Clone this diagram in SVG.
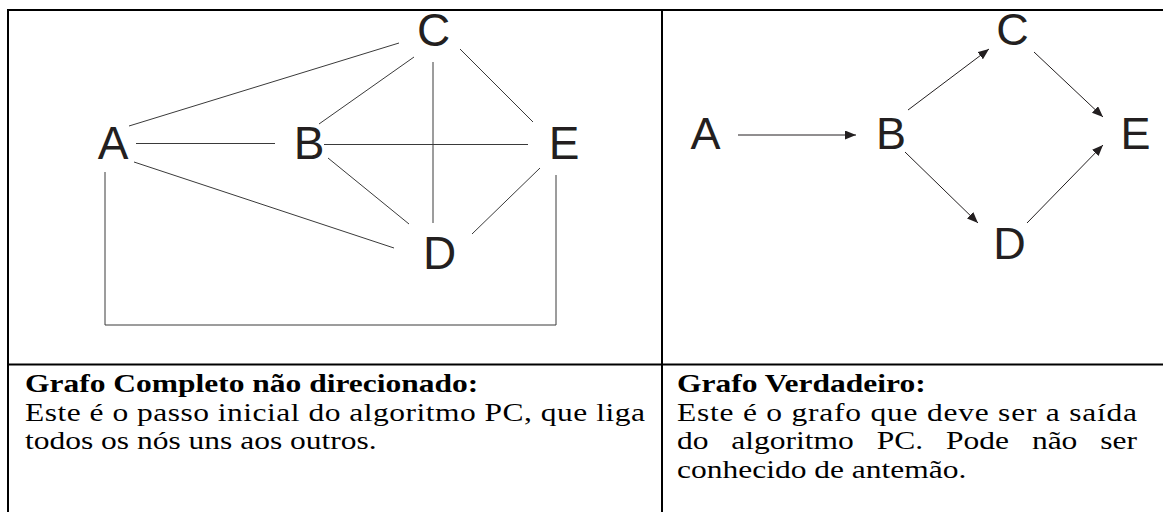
<svg xmlns="http://www.w3.org/2000/svg" width="1163" height="512" viewBox="0 0 1163 512">
<style>
.border{stroke:#000;stroke-width:2;fill:none}
.edge{stroke:#3a3a3a;stroke-width:1;fill:none}
.arrow{stroke:#231f20;stroke-width:1;fill:none;marker-end:url(#ah)}
.node{font-family:"Liberation Sans",Arial,sans-serif;font-size:46px;fill:#231f20;text-anchor:middle}
.node2{font-family:"Liberation Sans",Arial,sans-serif;font-size:45px;fill:#231f20;text-anchor:middle}
.cap{font-family:"Liberation Serif","Times New Roman",serif;font-size:25px;fill:#000}
.b{font-weight:bold}
</style>
<defs>
<marker id="ah" markerUnits="userSpaceOnUse" markerWidth="12" markerHeight="10" refX="11" refY="4.5" orient="auto">
<path d="M0,0 L11,4.5 L0,9 z" fill="#231f20"/>
</marker>
</defs>
<rect width="1163" height="512" fill="#fff"/>
<g id="table">
<line class="border" x1="7" y1="10" x2="1163" y2="10"/>
<line class="border" x1="8" y1="9" x2="8" y2="512"/>
<line class="border" x1="662" y1="9" x2="662" y2="512"/>
<line class="border" x1="7" y1="364.5" x2="1163" y2="364.5"/>
</g>
<g id="connectors">
<line class="edge" x1="129" y1="126" x2="399" y2="43"/>
<line class="edge" x1="136" y1="143.5" x2="275" y2="143.5"/>
<line class="edge" x1="319" y1="124" x2="414" y2="57"/>
<line class="edge" x1="324" y1="144.5" x2="528" y2="144.5"/>
<line class="edge" x1="433" y1="62" x2="433" y2="223"/>
<line class="edge" x1="460" y1="49" x2="533" y2="122"/>
<line class="edge" x1="328" y1="158" x2="409" y2="224"/>
<line class="edge" x1="134" y1="162" x2="394" y2="248"/>
<line class="edge" x1="540" y1="168" x2="472" y2="234"/>
<polyline class="edge" points="105,172 105,325 556,325 556,175"/>
<line class="arrow" x1="738" y1="135" x2="856" y2="135"/>
<line class="arrow" x1="908" y1="110" x2="989" y2="49"/>
<line class="arrow" x1="1034" y1="52" x2="1103" y2="117"/>
<line class="arrow" x1="905" y1="152" x2="978" y2="223"/>
<line class="arrow" x1="1027" y1="223" x2="1103" y2="145"/>
</g>
<g id="left-A"><text class="node" x="113" y="159">A</text></g>
<g id="left-B"><text class="node" x="309" y="159">B</text></g>
<g id="left-C"><text class="node" x="433.5" y="46">C</text></g>
<g id="left-D"><text class="node" x="439.5" y="269">D</text></g>
<g id="left-E"><text class="node" x="564" y="159">E</text></g>
<g id="right-A"><text class="node2" x="705.5" y="149">A</text></g>
<g id="right-B"><text class="node2" x="891" y="149">B</text></g>
<g id="right-C"><text class="node2" x="1012.5" y="45">C</text></g>
<g id="right-D"><text class="node2" x="1009.5" y="259">D</text></g>
<g id="right-E"><text class="node2" x="1135.5" y="149">E</text></g>
<g id="caption-left">
<text class="cap b" transform="translate(25,392) scale(1.26,1)">Grafo Completo não direcionado:</text>
<text class="cap" transform="translate(25,420.5) scale(1.26,1)" textLength="492" lengthAdjust="spacing">Este é o passo inicial do algoritmo PC, que liga</text>
<text class="cap" transform="translate(25,449) scale(1.26,1)">todos os nós uns aos outros.</text>
</g>
<g id="caption-right">
<text class="cap b" transform="translate(677,392) scale(1.26,1)">Grafo Verdadeiro:</text>
<text class="cap" transform="translate(677,420.5) scale(1.26,1)" textLength="365.1" lengthAdjust="spacing">Este é o grafo que deve ser a saída</text>
<text class="cap" transform="translate(677,449) scale(1.26,1)"><tspan x="0">do</tspan><tspan x="43.16">algoritmo</tspan><tspan x="158.54">PC.</tspan><tspan x="213.52">Pode</tspan><tspan x="281.67">não</tspan><tspan x="335.93">ser</tspan></text>
<text class="cap" transform="translate(677,477.5) scale(1.26,1)">conhecido de antemão.</text>
</g>
</svg>
